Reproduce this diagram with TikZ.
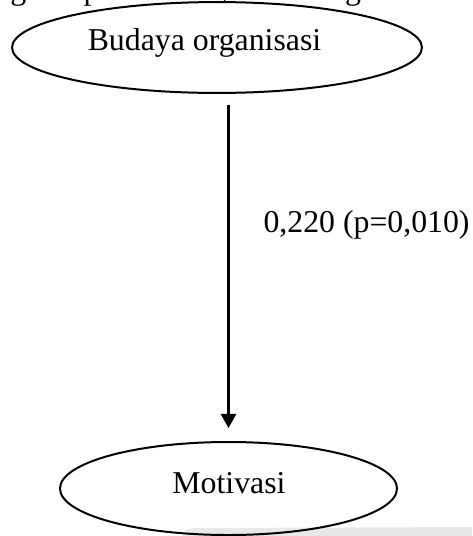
\documentclass[tikz,border=0pt]{standalone}
\usepackage{fontspec}
\setmainfont{Liberation Serif}
\usetikzlibrary{shapes.geometric,arrows.meta}
\begin{document}
\begin{tikzpicture}[x=0.3774pt,y=-0.3774pt,
  every node/.style={font=\fontsize{12}{14}\selectfont},
  construct/.style={ellipse,draw=black,line width=0.75pt,inner sep=0pt},
  label text/.style={inner sep=0pt,anchor=base},
  path arrow/.style={line width=0.8pt,-{Triangle[width=5.7pt,length=5.3pt]}}]
  \useasboundingbox (0,0) rectangle (472,536);
  \clip (0,0) rectangle (472,536);
  \fill[white] (0,0) rectangle (472,536);
  % running text above the figure, partly cut off by the page edge
  \node[label text,anchor=base west] (intro) at (-29,-1) {diagram penelitian yaitu sebagai berikut};
  % faint shading along the lower edge
  \fill[black!9] (183,545) -- (183,536) to[out=80,in=180] (205,528) -- (480,527) -- (480,545) -- cycle;
  % constructs (sizes in pt: 410 x 91 and 337 x 93 drawing units)
  \node[construct,fill=white,minimum width=154.7pt,minimum height=34.3pt] (budaya) at (217,47.5) {};
  \node[label text] (budayaText) at (204.5,50) {Budaya organisasi};
  \node[construct,minimum width=127.2pt,minimum height=35.1pt] (motivasi) at (228.5,488.5) {};
  \node[label text] (motivasiText) at (229,493) {Motivasi};
  % path coefficient
  \draw[path arrow,shorten <=4.15pt,shorten >=4.9pt] (motivasi.north |- budaya.south) -- (motivasi.north);
  \node[label text,anchor=base west] (coef) at (263,232) {0,220 (p=0,010)};
\end{tikzpicture}
\end{document}
